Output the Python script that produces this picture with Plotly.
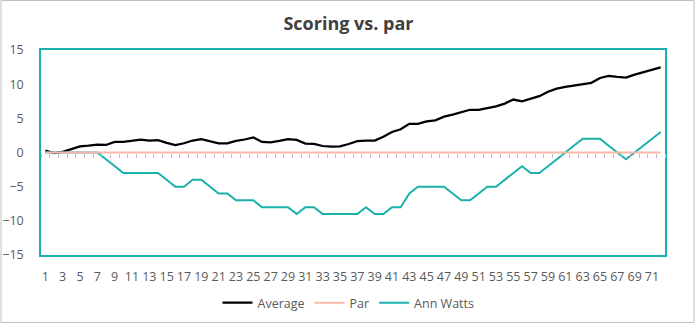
import plotly.graph_objects as go

holes = list(range(1, 73))
average = [0.3, -0.1, 0.1, 0.45, 0.9, 1.0, 1.15, 1.1, 1.55, 1.55,
           1.7, 1.9, 1.75, 1.8, 1.4, 1.1, 1.35, 1.75, 1.95, 1.65,
           1.35, 1.35, 1.7, 1.9, 2.2, 1.55, 1.5, 1.7, 1.95, 1.85,
           1.3, 1.25, 0.95, 0.85, 0.9, 1.25, 1.65, 1.75, 1.75, 2.3,
           3.0, 3.4, 4.2, 4.2, 4.55, 4.7, 5.25, 5.55, 5.95, 6.25,
           6.25, 6.45, 6.75, 7.15, 7.75, 7.5, 7.85, 8.25, 8.9, 9.35,
           9.6, 9.8, 9.95, 10.2, 10.9, 11.2, 11.05, 10.95, 11.4, 11.75,
           12.1, 12.45]
par = [0] * 72
ann_watts = [0, 0, 0, 0, 0, 0, 0, -1, -2, -3,
             -3, -3, -3, -3, -4, -5, -5, -4, -4, -5,
             -6, -6, -7, -7, -7, -8, -8, -8, -8, -9,
             -8, -8, -9, -9, -9, -9, -9, -8, -9, -9,
             -8, -8, -6, -5, -5, -5, -5, -6, -7, -7,
             -6, -5, -5, -4, -3, -2, -3, -3, -2, -1,
             0, 1, 2, 2, 2, 1, 0, -1, 0, 1,
             2, 3]
x_tick_labels = [str(h) for h in holes if h % 2 == 1]
y_ticks = [-15, -10, -5, 0, 5, 10, 15]

FONT = "Open Sans"
TEAL = "#1AB0AC"
PINK = "#F7B8A8"

fig = go.Figure()
fig.add_trace(go.Scatter(x=holes, y=average, name="Average", mode="lines",
                         line=dict(color="#000000", width=2.25)))
fig.add_trace(go.Scatter(x=holes, y=par, name="Par", mode="lines",
                         line=dict(color=PINK, width=2), xaxis="x2"))
fig.add_trace(go.Scatter(x=holes, y=ann_watts, name="Ann Watts", mode="lines",
                         line=dict(color=TEAL, width=2)))

W, H = 697, 325
L, R, T, B = 41, 32, 50, 70
pw, ph = W - L - R, H - T - B

fig.update_layout(
    width=W, height=H,
    margin=dict(l=L, r=R, t=T, b=B, autoexpand=False),
    paper_bgcolor="white", plot_bgcolor="white",
    font=dict(family=FONT, color="#595959", size=12),
    title=dict(text="<b>Scoring vs. par</b>", x=0.5, xref="container",
               y=1 - 24 / H, yref="container", yanchor="middle", xanchor="center",
               font=dict(family=FONT, size=18, color="#404040")),
    xaxis=dict(range=[0.5, 72.5], tickmode="array",
               tickvals=[h for h in holes if h % 2 == 1], ticktext=x_tick_labels,
               showgrid=False, zeroline=False, ticks="", automargin=False,
               showline=True, mirror=True, linecolor=TEAL, linewidth=1.5,
               ticklabelstandoff=9, tickfont=dict(size=12.5, color="#595959")),
    xaxis2=dict(range=[0.5, 72.5], overlaying="x", anchor="free", position=0.5,
                tickmode="array", tickvals=[h + 0.5 for h in range(0, 73)],
                showticklabels=False, ticks="outside", ticklen=4, tickwidth=1,
                tickcolor="#BFBFBF", showgrid=False, zeroline=False, showline=False,
                automargin=False),
    yaxis=dict(range=[-15, 15], tickmode="array", tickvals=y_ticks,
               showgrid=False, zeroline=False, ticks="", automargin=False,
               showline=True, mirror=True, linecolor=TEAL, linewidth=1.5,
               ticklabelstandoff=13, tickfont=dict(size=12.5, color="#595959")),
    showlegend=True,
    legend=dict(orientation="h", x=0.5, xref="container", xanchor="center",
                y=1 - 303 / H, yref="container", yanchor="middle",
                font=dict(size=12.5, color="#595959"), bgcolor="rgba(0,0,0,0)",
                itemwidth=30, tracegroupgap=0),
)

# outer chart border
fig.add_shape(type="rect", xref="paper", yref="paper",
              x0=(1 - L) / pw, x1=(694 - L) / pw,
              y0=(H - B - 322.5) / ph, y1=(H - B - 0.5) / ph,
              line=dict(color="#C0C0C0", width=1), fillcolor="rgba(0,0,0,0)",
              layer="below")

fig.write_html("out.html")
